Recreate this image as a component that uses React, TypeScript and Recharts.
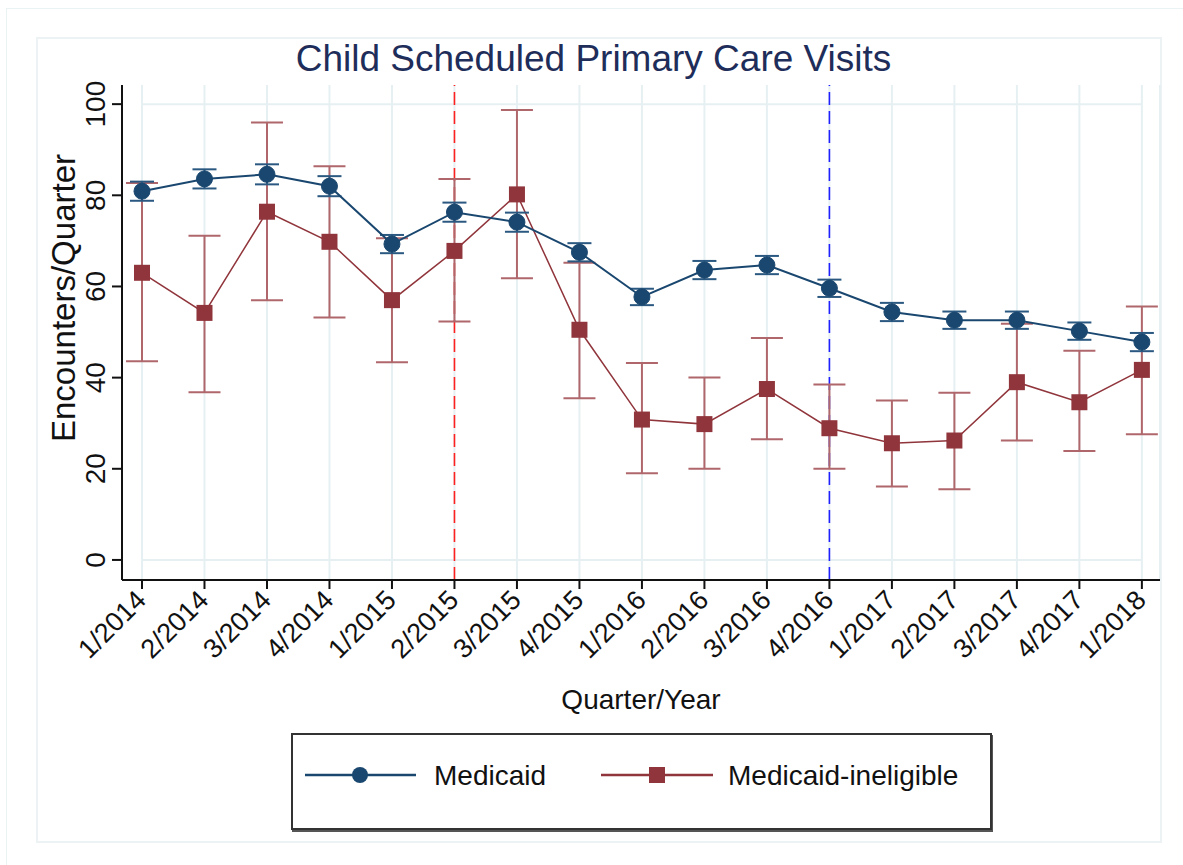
import React from "react";
import {
  LineChart,
  Line,
  XAxis,
  YAxis,
  CartesianGrid,
  ReferenceLine,
  ErrorBar,
} from "recharts";

const quarters = [
  "1/2014", "2/2014", "3/2014", "4/2014",
  "1/2015", "2/2015", "3/2015", "4/2015",
  "1/2016", "2/2016", "3/2016", "4/2016",
  "1/2017", "2/2017", "3/2017", "4/2017",
  "1/2018",
];

const medicaid = [80.9, 83.6, 84.6, 82.0, 69.3, 76.3, 74.1, 67.5, 57.7, 63.6, 64.7, 59.6, 54.4, 52.6, 52.6, 50.2, 47.8];
const medicaidLo = [78.8, 81.5, 82.4, 79.8, 67.3, 74.2, 72.0, 65.5, 55.9, 61.6, 62.7, 57.7, 52.4, 50.7, 50.7, 48.3, 45.8];
const medicaidHi = [83.0, 85.7, 86.8, 84.2, 71.3, 78.4, 76.2, 69.5, 59.5, 65.6, 66.7, 61.5, 56.4, 54.5, 54.5, 52.1, 49.8];

const ineligible = [63.0, 54.2, 76.4, 69.8, 57.0, 67.8, 80.2, 50.5, 30.8, 29.8, 37.5, 28.9, 25.6, 26.2, 39.0, 34.6, 41.7];
const ineligibleLo = [43.6, 36.8, 57.0, 53.2, 43.4, 52.3, 61.8, 35.5, 19.0, 20.0, 26.5, 20.0, 16.1, 15.5, 26.2, 23.9, 27.6];
const ineligibleHi = [82.7, 71.1, 96.0, 86.4, 70.6, 83.6, 98.7, 65.2, 43.2, 40.0, 48.7, 38.5, 35.0, 36.7, 51.8, 45.9, 55.6];

const yTicks = [0, 20, 40, 60, 80, 100];
const policyLines = [
  { at: 5, color: "#ff2020" },
  { at: 11, color: "#2020ff" },
];

const navy = "#1a476f";
const maroon = "#90353b";
const font = "'Liberation Sans', Arial, sans-serif";

const rows = quarters.map((q, i) => ({
  i,
  q,
  med: medicaid[i],
  medErr: [medicaid[i] - medicaidLo[i], medicaidHi[i] - medicaid[i]],
  inel: ineligible[i],
  inelErr: [ineligible[i] - ineligibleLo[i], ineligibleHi[i] - ineligible[i]],
}));

function XTick(props: any) {
  const { x, y, payload } = props;
  return (
    <text
      transform={`translate(${x - 1},${y + 4}) rotate(-45)`}
      textAnchor="end"
      dy="0.35em"
      fontSize={27}
      fontFamily={font}
      fill="#111"
    >
      {quarters[payload.value]}
    </text>
  );
}

function YTick(props: any) {
  const { x, y, payload } = props;
  return (
    <text
      transform={`translate(${x - 5},${y}) rotate(-90)`}
      textAnchor="middle"
      fontSize={28}
      fontFamily={font}
      fill="#111"
    >
      {payload.value}
    </text>
  );
}

function Circle(props: any) {
  const { cx, cy, index } = props;
  if (cx == null || cy == null) return <g key={index} />;
  return <circle key={index} cx={cx} cy={cy} r={8} fill={navy} stroke={navy} strokeWidth={1} />;
}

function Square(props: any) {
  const { cx, cy, index } = props;
  if (cx == null || cy == null) return <g key={index} />;
  return <rect key={index} x={cx - 8} y={cy - 8} width={16} height={16} fill={maroon} />;
}

export default function App() {
  return (
    <div style={{ position: "absolute", left: 0, top: 0, width: 1183, height: 865, background: "#fff", overflow: "hidden" }}>
      <div style={{ position: "absolute", left: 6, top: 8, width: 1200, height: 900, border: "1.5px solid #eaf2f3" }} />
      <div style={{ position: "absolute", left: 36, top: 37, width: 1122, height: 802, border: "2px solid #edf3f4" }} />

      <div style={{ position: "absolute", left: 0, top: 38, width: 1187, textAlign: "center", fontFamily: font, fontSize: 37, color: "#1e2d5a" }}>
        Child Scheduled Primary Care Visits
      </div>

      <div style={{ position: "absolute", left: 0, top: 0 }}>
        <LineChart width={1183} height={865} data={rows} margin={{ top: 85, right: 23, left: 62, bottom: 185 }}>
          <CartesianGrid horizontal={false} stroke="#e6f0f2" strokeWidth={2} />
          <XAxis
            type="number"
            dataKey="i"
            domain={[-0.32, 16.29]}
            ticks={quarters.map((_, i) => i)}
            interval={0}
            allowDataOverflow
            height={100}
            tickSize={9}
            tick={<XTick />}
            axisLine={{ stroke: "#111", strokeWidth: 2 }}
            tickLine={{ stroke: "#111", strokeWidth: 2 }}
          />
          <YAxis
            type="number"
            domain={[-4.4, 104.2]}
            ticks={yTicks}
            allowDataOverflow
            width={60}
            tickSize={10}
            tick={<YTick />}
            axisLine={{ stroke: "#111", strokeWidth: 2 }}
            tickLine={{ stroke: "#111", strokeWidth: 2 }}
          />
          <ReferenceLine segment={[{ x: 0, y: 100 }, { x: 16, y: 100 }]} stroke="#e6f0f2" strokeWidth={2} />
          <ReferenceLine segment={[{ x: 0, y: 0 }, { x: 16, y: 0 }]} stroke="#e6f0f2" strokeWidth={2} />
          {policyLines.map((p) => (
            <ReferenceLine key={p.at} x={p.at} stroke={p.color} strokeWidth={1.6} strokeDasharray="13 6" />
          ))}
          <Line
            dataKey="inel"
            stroke={maroon}
            strokeWidth={1.5}
            dot={<Square />}
            isAnimationActive={false}
          >
            <ErrorBar dataKey="inelErr" direction="y" width={16} stroke="#b0676c" strokeWidth={2} isAnimationActive={false} />
          </Line>
          <Line
            dataKey="med"
            stroke={navy}
            strokeWidth={2}
            dot={<Circle />}
            isAnimationActive={false}
          >
            <ErrorBar dataKey="medErr" direction="y" width={12} stroke="#2a5880" strokeWidth={2} isAnimationActive={false} />
          </Line>
        </LineChart>
      </div>

      <div
        style={{
          position: "absolute",
          left: 0,
          top: 306,
          width: 110,
          height: 0,
          display: "flex",
          justifyContent: "center",
        }}
      >
        <div style={{ transform: "rotate(-90deg)", whiteSpace: "nowrap", fontFamily: font, fontSize: 33, color: "#111", lineHeight: "33px", marginTop: -16 }}>
          Encounters/Quarter
        </div>
      </div>

      <div style={{ position: "absolute", left: 122, top: 684, width: 1038, textAlign: "center", fontFamily: font, fontSize: 28, color: "#111" }}>
        Quarter/Year
      </div>

      <div
        style={{
          position: "absolute",
          left: 291,
          top: 733,
          width: 697,
          height: 93,
          border: "2px solid #333",
          boxShadow: "1px 2px 0 #555",
          background: "#fff",
        }}
      >
        <svg width={697} height={93} style={{ position: "absolute", left: 0, top: 0 }}>
          <line x1={12} y1={40} x2={123} y2={40} stroke={navy} strokeWidth={2.5} />
          <circle cx={67} cy={40} r={8} fill={navy} />
          <text x={141} y={50} fontFamily={font} fontSize={28} fill="#111">Medicaid</text>
          <line x1={308} y1={40} x2={420} y2={40} stroke={maroon} strokeWidth={2.5} />
          <rect x={356} y={32} width={16} height={16} fill={maroon} />
          <text x={435} y={50} fontFamily={font} fontSize={28} fill="#111">Medicaid-ineligible</text>
        </svg>
      </div>
    </div>
  );
}
